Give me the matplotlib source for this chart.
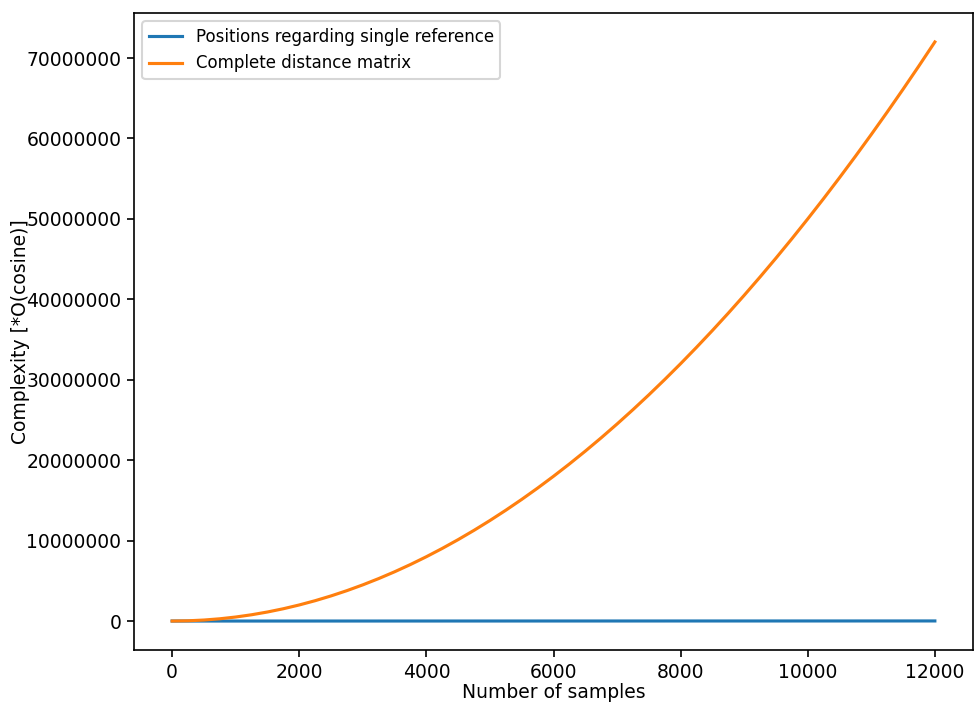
import matplotlib
matplotlib.use("Agg")
import matplotlib.pyplot as plt
from matplotlib.ticker import ScalarFormatter

plt.rcParams["font.size"] = 9

# values (every 250 samples)
samples = [0, 250, 500, 750, 1000, 1250, 1500, 1750, 2000, 2250, 2500, 2750, 3000,
           3250, 3500, 3750, 4000, 4250, 4500, 4750, 5000, 5250, 5500, 5750, 6000,
           6250, 6500, 6750, 7000, 7250, 7500, 7750, 8000, 8250, 8500, 8750, 9000,
           9250, 9500, 9750, 10000, 10250, 10500, 10750, 11000, 11250, 11500, 11750, 12000]
single_ref = list(samples)
full_matrix = [0, 31000, 125000, 281000, 500000, 781000, 1125000, 1531000, 2000000,
               2531000, 3125000, 3781000, 4500000, 5281000, 6125000, 7031000, 8000000,
               9031000, 10125000, 11281000, 12500000, 13781000, 15125000, 16531000,
               18000000, 19531000, 21125000, 22781000, 24500000, 26281000, 28125000,
               30031000, 32000000, 34031000, 36125000, 38281000, 40500000, 42781000,
               45125000, 47531000, 50000000, 52531000, 55125000, 57781000, 60500000,
               63281000, 66125000, 69031000, 72000000]

fig = plt.figure(figsize=(976 / 150, 702 / 150), dpi=150)
ax = fig.add_axes([134 / 976, 1 - 650 / 702, (973 - 134) / 976, (650 - 13) / 702])

ax.plot(samples, single_ref, label="Positions regarding single reference")
ax.plot(samples, full_matrix, label="Complete distance matrix")

fmt = ScalarFormatter(useOffset=False)
fmt.set_scientific(False)
ax.yaxis.set_major_formatter(fmt)
ax.tick_params(pad=2.5)

ax.set_xlabel("Number of samples")
ax.set_ylabel("Complexity [*O(cosine)]")
ax.xaxis.set_label_coords(0.5, -(683 - 650) / 637)
ax.yaxis.set_label_coords(-(134 - 30) / 839, 0.5)
ax.legend(loc="upper left", fontsize=8)

fig.savefig("out.png", dpi=150)
